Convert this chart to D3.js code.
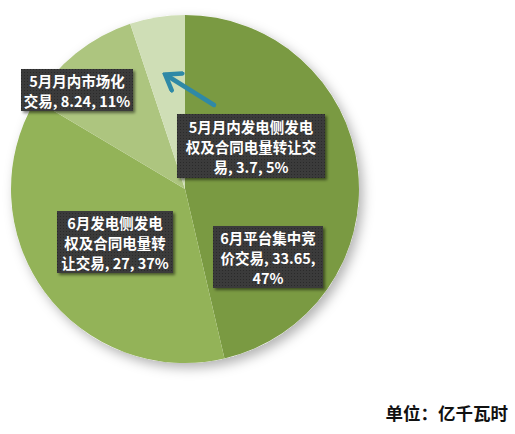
<!DOCTYPE html>
<html>
<head>
<meta charset="utf-8">
<script src="https://cdn.jsdelivr.net/npm/d3@7"></script>
<style>
  body { margin: 0; background: #fff; }
  svg { display: block; }
  .lbl { font-family: "Noto Sans CJK SC", sans-serif; font-size: 14.5px; font-weight: bold; fill: #fff; }
  .unit { font-family: "Noto Sans CJK SC", sans-serif; font-size: 17.5px; font-weight: bold; fill: #111; }
</style>
</head>
<body>
<svg id="chart" width="515" height="434"></svg>
<script>
// data, clockwise from 12 o'clock
const names = ["6月平台集中竞价交易", "6月发电侧发电权及合同电量转让交易", "5月月内市场化交易", "5月月内发电侧发电权及合同电量转让交易"];
const values = [33.65, 27, 8.24, 3.7];
const percents = ["47%", "37%", "11%", "5%"];
const labelLines = [
    ["6月平台集中竞", "价交易, 33.65,", "47%"],
    ["6月发电侧发电", "权及合同电量转", "让交易, 27, 37%"],
    ["5月月内市场化", "交易, 8.24, 11%"],
    ["5月月内发电侧发电", "权及合同电量转让交", "易, 3.7, 5%"]
];
const colors = ["#7a9a42", "#93b358", "#adc57f", "#cfdeb6"];

// label boxes (layout only)
const boxes = [
    {cx: 268, cy: 257, w: 110, h: 62},
    {cx: 115, cy: 242, w: 116, h: 62},
    {cx: 77, cy: 90, w: 112, h: 42},
    {cx: 251, cy: 146, w: 148, h: 64}
];

const svg = d3.select("#chart");
const cx = 185, cy = 189, r = 174;

let defs = svg.append("defs");
let sh = defs.append("filter").attr("id", "pieShadow")
    .attr("x", "-20%").attr("y", "-20%").attr("width", "150%").attr("height", "150%");
sh.append("feDropShadow").attr("dx", 4).attr("dy", 5).attr("stdDeviation", 6)
    .attr("flood-color", "#000").attr("flood-opacity", 0.3);
let bs = defs.append("filter").attr("id", "boxShadow")
    .attr("x", "-20%").attr("y", "-20%").attr("width", "150%").attr("height", "150%");
bs.append("feDropShadow").attr("dx", 2).attr("dy", 2).attr("stdDeviation", 1.5)
    .attr("flood-color", "#000").attr("flood-opacity", 0.5);
let pat = defs.append("pattern").attr("id", "dots")
    .attr("width", 3).attr("height", 3).attr("patternUnits", "userSpaceOnUse");
pat.append("rect").attr("width", 3).attr("height", 3).attr("fill", "#3a3a3a");
pat.append("rect").attr("width", 1).attr("height", 1).attr("fill", "#2c2c2c");

let pie = d3.pie().sort(null).value(d => d);
let arc = d3.arc().innerRadius(0).outerRadius(r);

let g = svg.append("g").attr("transform", "translate(" + cx + "," + cy + ")");
g.append("circle").attr("r", r).attr("fill", "#fff").attr("filter", "url(#pieShadow)");
g.selectAll("path.slice")
    .data(pie(values))
    .enter()
    .append("path")
    .attr("class", "slice")
    .attr("d", arc)
    .attr("fill", (d, i) => colors[i]);

// arrow pointing into the small slice
defs.append("marker").attr("id", "head")
    .attr("viewBox", "0 0 20 24").attr("refX", 16).attr("refY", 12)
    .attr("markerUnits", "userSpaceOnUse")
    .attr("markerWidth", 20).attr("markerHeight", 24).attr("orient", "auto")
    .append("path").attr("d", "M3,2 L17,12 L3,22")
    .attr("fill", "none").attr("stroke", "#2f89a6").attr("stroke-width", 4.5)
    .attr("stroke-linecap", "round").attr("stroke-linejoin", "miter");
svg.append("line")
    .attr("x1", 214).attr("y1", 105).attr("x2", 166).attr("y2", 75)
    .attr("stroke", "#2f89a6").attr("stroke-width", 4.5)
    .attr("stroke-linecap", "round")
    .attr("marker-end", "url(#head)");

// labels
labelLines.forEach(function (lines, i) {
    let b = boxes[i];
    let lg = svg.append("g");
    lg.append("rect")
        .attr("x", b.cx - b.w / 2).attr("y", b.cy - b.h / 2)
        .attr("width", b.w).attr("height", b.h)
        .attr("fill", "url(#dots)")
        .attr("filter", "url(#boxShadow)");
    let lh = 20;
    let y0 = b.cy - (lines.length - 1) * lh / 2;
    lines.forEach(function (t, j) {
        lg.append("text").attr("class", "lbl")
            .attr("x", b.cx).attr("y", y0 + j * lh)
            .attr("text-anchor", "middle")
            .attr("dominant-baseline", "central")
            .text(t);
    });
});

svg.append("text").attr("class", "unit")
    .attr("x", 508).attr("y", 420)
    .attr("text-anchor", "end")
    .text("单位：亿千瓦时");
</script>
</body>
</html>
